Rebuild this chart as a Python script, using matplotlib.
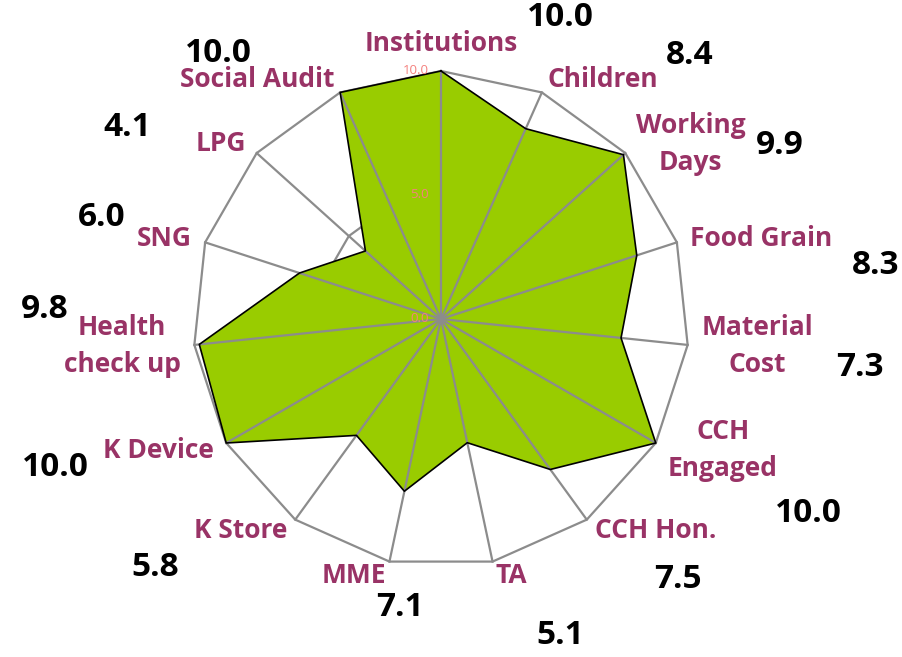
import numpy as np
import matplotlib.pyplot as plt

categories = ['Institutions', 'Children', 'Working\nDays', 'Food Grain', 'Material\nCost',
              'CCH\nEngaged', 'CCH Hon.', 'TA', 'MME', 'K Store', 'K Device',
              'Health\ncheck up', 'SNG', 'LPG', 'Social Audit']
scores = [10.0, 8.4, 9.9, 8.3, 7.3, 10.0, 7.5, 5.1, 7.1, 5.8, 10.0, 9.8, 6.0, 4.1, 10.0]
ring_levels = [0, 5, 10]

# score numbers were placed by hand in the original, pixel centres (x, y from top)
score_pos = [(560, 18), (690, 55), (780, 145), (876, 265), (860, 367), (808, 514),
             (678, 580), (560, 636), (400, 608), (155, 567), (55, 467), (45, 310),
             (102, 218), (127, 128), (218, 53)]

W, H = 902, 657
plt.rcParams['font.family'] = ['Open Sans', 'DejaVu Sans']
fig = plt.figure(figsize=(W / 100, H / 100), dpi=100)
ax = fig.add_axes([193 / W, 90 / H, 496 / W, 496 / H], projection='polar')
ax.set_theta_offset(np.pi / 2)
ax.set_theta_direction(-1)
ax.set_ylim(0, 10)
ax.grid(False)
ax.spines['polar'].set_visible(False)
ax.set_xticks([])
ax.set_yticks([])

n = len(categories)
theta = np.linspace(0, 2 * np.pi, n, endpoint=False)
tc = np.append(theta, theta[0])
vc = np.append(scores, scores[0])

grid_col = '#8c8c8c'
for lvl in ring_levels[1:]:
    ax.plot(tc, [lvl] * (n + 1), color=grid_col, lw=1.6, zorder=1, clip_on=False)

ax.fill(tc, vc, color='#99CC00', lw=0, zorder=2)
for t in theta:
    ax.plot([t, t], [0, 10], color=grid_col, lw=1.6, zorder=3, clip_on=False)
ax.plot(tc, vc, color='black', lw=1.2, zorder=4, clip_on=False)

for lvl in ring_levels:
    ax.annotate(f'{lvl:.1f}', xy=(0, lvl), xytext=(-12, 1), textcoords='offset pixels',
                ha='right', va='center', fontsize=9.5, color='#F4817F', zorder=5)

# category labels just outside the outer ring
for t, name in zip(theta, categories):
    ang = np.pi / 2 - t
    c, s = np.cos(ang), np.sin(ang)
    if abs(c) < 0.1:
        ha = 'center'
    elif c > 0:
        ha = 'left'
    else:
        ha = 'right'
    va = 'bottom' if s > 0.95 else 'center'
    gap = 14
    ax.annotate(name, xy=(t, 10), xytext=(gap * c, gap * s), textcoords='offset pixels',
                ha=ha, va=va, multialignment='center', fontsize=19, fontweight='bold',
                color='#993366', annotation_clip=False, linespacing=1.48)

for (x, y), v in zip(score_pos, scores):
    fig.text(x / W, 1 - y / H, f'{v:.1f}', ha='center', va='center',
             fontsize=24, fontweight='bold', color='black')

fig.savefig('out.png', dpi=100)
